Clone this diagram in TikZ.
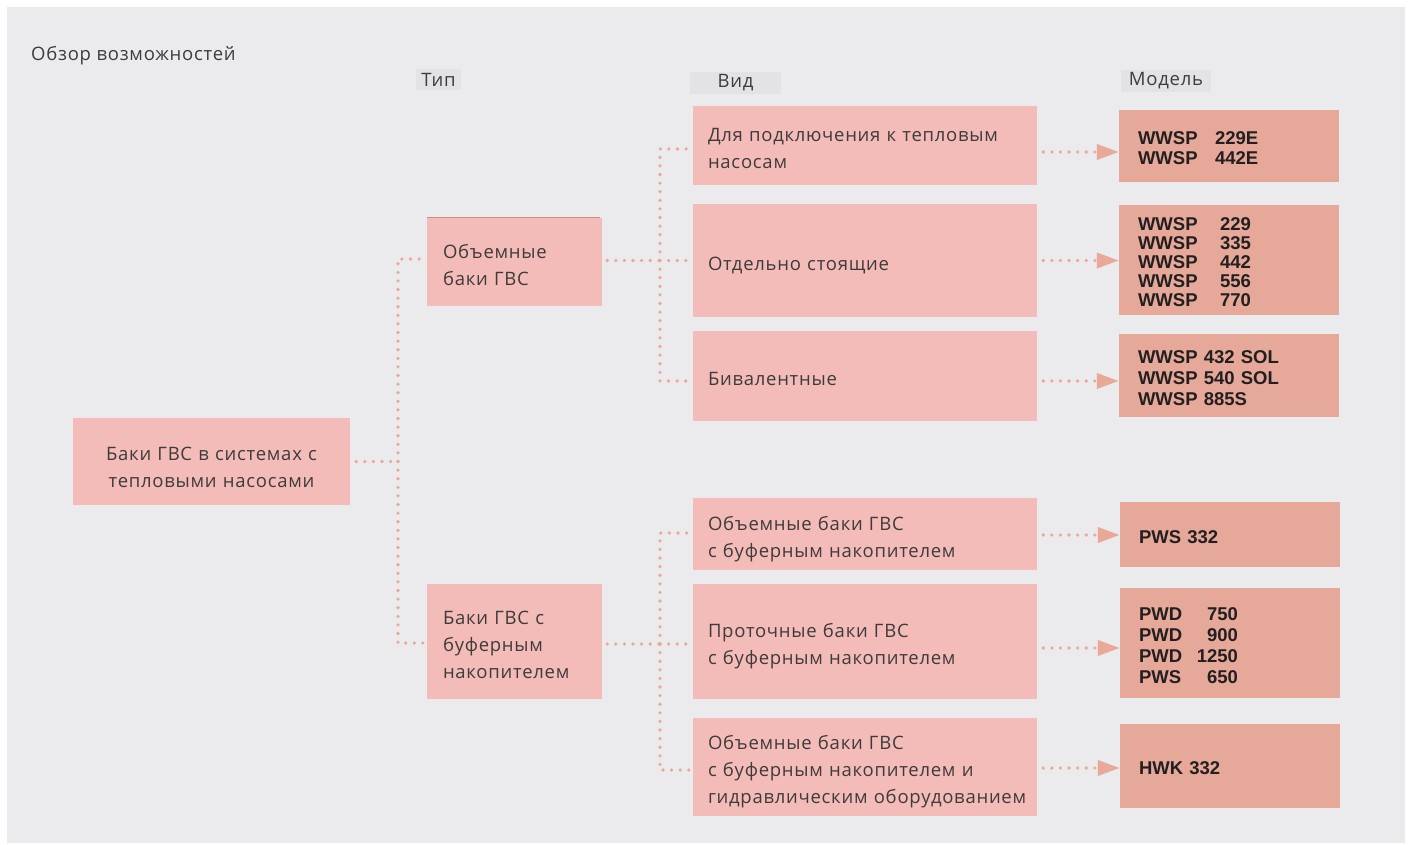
\documentclass[tikz,border=0pt]{standalone}
\usepackage{fontspec}
\setmainfont[LetterSpace=4]{Open Sans}
\newfontfamily\modelfont{Liberation Sans}
\usetikzlibrary{arrows.meta}
\definecolor{bgc}{HTML}{EBEBED}
\definecolor{lblc}{HTML}{E3E3E5}
\definecolor{boxc}{HTML}{F3BCB8}
\definecolor{modc}{HTML}{E5A899}
\definecolor{dotc}{HTML}{E9A898}
\definecolor{txtc}{HTML}{3E3B3B}
\definecolor{modtxt}{HTML}{231F20}
\tikzset{
  pale/.style={fill=boxc, draw=none, rectangle, inner sep=0pt, text=txtc,
    font=\fontsize{18.5}{27}\selectfont,
    execute at begin node={\rule{0pt}{24pt}},
    execute at end node={\rule[-5pt]{0pt}{5pt}}},
  kindbox/.style={pale, minimum width=344pt, text width=314pt, align=left},
  typebox/.style={pale, minimum width=175pt, text width=143pt, align=left},
  modbox/.style={fill=modc, draw=none, rectangle, inner sep=0pt, minimum width=220pt,
    text width=182pt, align=left, text=modtxt, font=\modelfont\bfseries\fontsize{18.5}{20}\selectfont,
    execute at begin node={\rule{0pt}{18pt}}},
  hdr/.style={fill=lblc, draw=none, inner sep=0pt, text=txtc, font=\fontsize{18.5}{20}\selectfont},
  dotline/.style={dotc, line width=3.6pt, line cap=round, dash pattern=on 0pt off 8.6pt},
  tip/.style={-{Triangle[length=22pt 0,width=15pt 0]}}
}
\begin{document}
\begin{tikzpicture}[x=1pt,y=-1pt]
\useasboundingbox (0,0) rectangle (1409,844);
\fill[white] (0,0) rectangle (1409,844);
\fill[bgc] (7,7) rectangle (1405,843);

% title and headers
\node[anchor=west, inner sep=0pt, text=txtc, font=\fontsize{18.5}{20}\selectfont] (title) at (31,56) {Обзор возможностей};
\node[hdr, minimum width=45pt, minimum height=21pt] (htype) at (438.5,79.5) {Тип};
\node[hdr, minimum width=91pt, minimum height=22pt] (hkind) at (735.5,83) {Вид};
\node[hdr, minimum width=90pt, minimum height=22pt] (hmodel) at (1166,80.5) {Модель};

% root
\node[pale, minimum width=277pt, minimum height=87pt, text width=260pt, align=center,
  execute at begin node={\rule{0pt}{30.5pt}}] (root) at (211.5,461.5) {Баки ГВС в системах с\\тепловыми насосами};

% types
\node[typebox, minimum height=88pt] (t1) at (514.5,262) {Объемные\\баки ГВС};
\draw[color=dotc!85!black, line width=0.8pt] (t1.north west) -- ([xshift=-2pt]t1.north east);
\node[typebox, minimum height=115pt] (t2) at (514.5,641.5) {Баки ГВС с\\буферным\\накопителем};

% kinds
\node[kindbox, minimum height=79pt] (k1) at (865,145.5) {Для подключения к тепловым\\насосам};
\node[kindbox, minimum height=113pt] (k2) at (865,260.5) {Отдельно стоящие};
\node[kindbox, minimum height=90pt] (k3) at (865,376) {Бивалентные};
\node[kindbox, minimum height=72pt] (k4) at (865,534) {Объемные баки ГВС\\с буферным накопителем};
\node[kindbox, minimum height=115pt] (k5) at (865,641.5) {Проточные баки ГВС\\с буферным накопителем};
\node[kindbox, minimum height=98pt] (k6) at (865,767) {Объемные баки ГВС\\с буферным накопителем и\\гидравлическим~оборудованием};

% models
\node[modbox, minimum height=72pt] (m1) at (1229,146) {\makebox[77pt][l]{WWSP}229E\\\makebox[77pt][l]{WWSP}442E};
\node[modbox, minimum height=110pt, font=\modelfont\bfseries\fontsize{18.5}{19}\selectfont] (m2) at (1229,260) {\makebox[82pt][l]{WWSP}229\\\makebox[82pt][l]{WWSP}335\\\makebox[82pt][l]{WWSP}442\\\makebox[82pt][l]{WWSP}556\\\makebox[82pt][l]{WWSP}770};
\node[modbox, minimum height=83pt, font=\modelfont\bfseries\fontsize{18.5}{21}\selectfont] (m3) at (1229,375.5) {WWSP 432 SOL\\WWSP 540 SOL\\WWSP 885S};
\node[modbox, minimum height=65pt] (m4) at (1230,534.5) {PWS 332};
\node[modbox, minimum height=110pt, font=\modelfont\bfseries\fontsize{18.5}{21}\selectfont] (m5) at (1230,643) {\makebox[99pt]{PWD\hfill 750}\\\makebox[99pt]{PWD\hfill 900}\\\makebox[99pt]{PWD\hfill 1250}\\\makebox[99pt]{PWS\hfill 650}};
\node[modbox, minimum height=84pt] (m6) at (1230,766) {HWK 332};

% tree connectors
\coordinate (j0) at (398,461.5);
\draw[dotline, shorten <=6pt] (root.east) -- (j0);
\draw[dotline] (j0) |- ([yshift=3pt]t1.west);
\draw[dotline] (j0) |- ([yshift=-1.5pt]t2.west);

\coordinate (j1) at (660,260.5);
\draw[dotline, shorten <=5pt] ([yshift=1.5pt]t1.east) -- (j1);
\draw[dotline] (j1) |- ([yshift=-3.5pt]k1.west);
\draw[dotline] (j1) -- (k2.west);
\draw[dotline] (j1) |- ([yshift=-5pt]k3.west);

\coordinate (j2) at (660,644);
\draw[dotline, shorten <=5pt] ([yshift=-2.5pt]t2.east) -- (j2);
\draw[dotline] (j2) |- ([yshift=1pt]k4.west);
\draw[dotline] (j2) -- (k5.west |- j2);
\draw[dotline] (j2) |- ([yshift=-3pt]k6.west);

% arrows to models
\foreach \i/\d in {1/-6.5,2/0,3/-5,4/-1,5/-6.5,6/-1}{
  \draw[dotline, tip, shorten <=6pt] ([yshift=\d pt]k\i.east) -- ([yshift=\d pt]k\i.east -| m\i.west);
}
\end{tikzpicture}
\end{document}
